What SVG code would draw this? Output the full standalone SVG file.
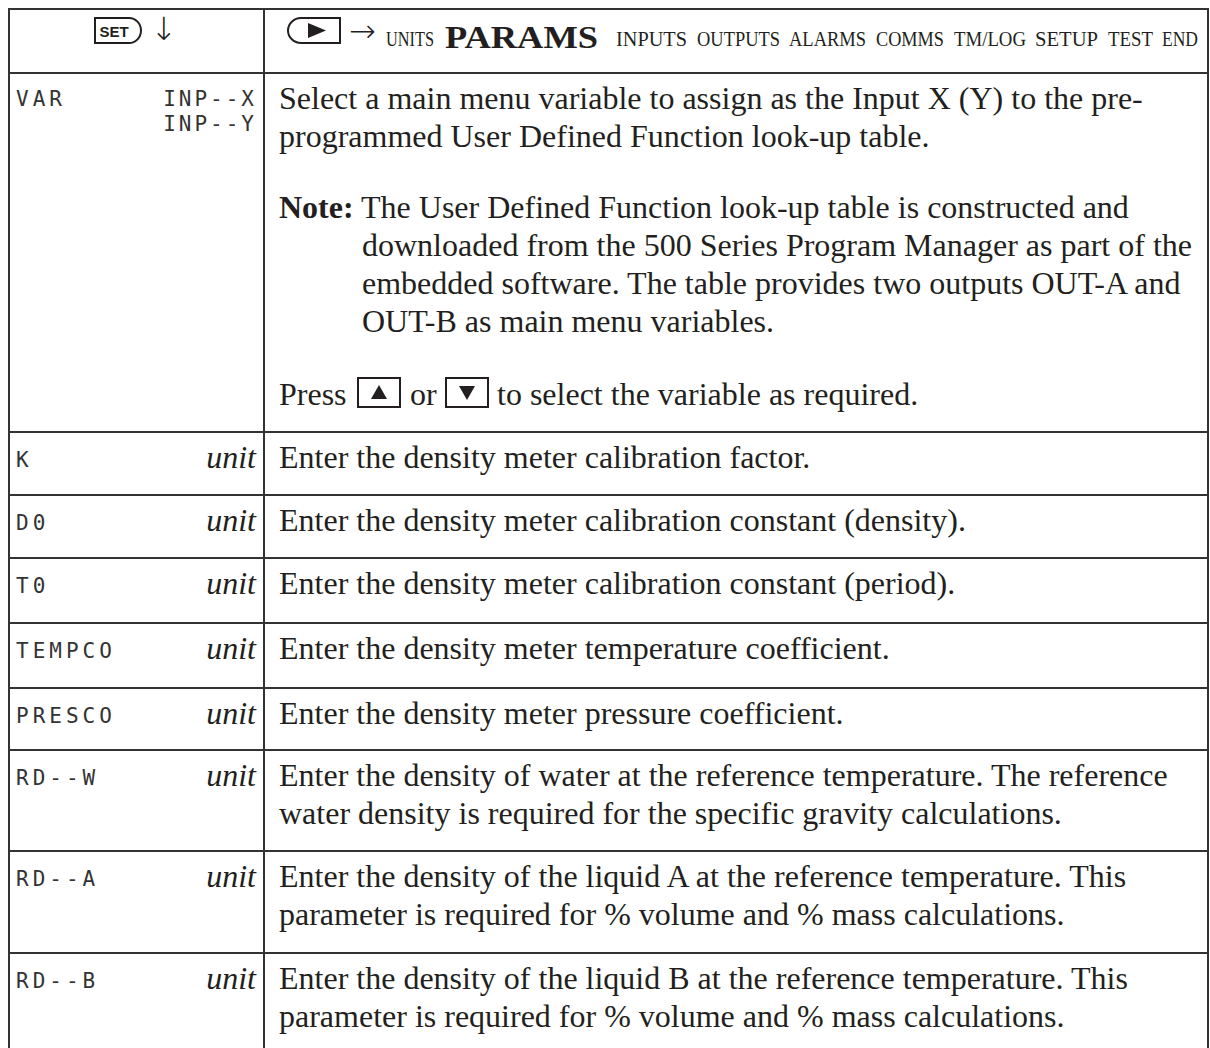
<svg xmlns="http://www.w3.org/2000/svg" width="1210" height="1048" viewBox="0 0 1210 1048">
<style>
.ln{stroke:#333;stroke-width:2;fill:none}
.t{font-family:"Liberation Serif","Times New Roman",serif;font-size:32px;fill:#231f20}
.b{font-weight:bold}
.u{font-family:"Liberation Serif","Times New Roman",serif;font-size:32px;font-style:italic;fill:#231f20;text-anchor:end}
.lcd{font-family:"DejaVu Sans Mono",monospace;font-size:21px;fill:#333;letter-spacing:4px}
.lcdr{font-family:"DejaVu Sans Mono",monospace;font-size:21px;fill:#333;letter-spacing:3px;text-anchor:end}
.hd{font-family:"Liberation Serif","Times New Roman",serif;font-size:21px;fill:#231f20}
.ar{font-family:"DejaVu Sans",sans-serif;font-weight:200;font-size:32px;fill:#231f20}
.key{fill:#fff;stroke:#231f20;stroke-width:2}
</style>
<rect width="1210" height="1048" fill="#fff"/>
<g id="grid">
<rect class="ln" x="9" y="9" width="1199" height="1060"/>
<line class="ln" x1="264" y1="9" x2="264" y2="1048"/>
<line class="ln" x1="9" y1="73" x2="1208" y2="73"/>
<line class="ln" x1="9" y1="432" x2="1208" y2="432"/>
<line class="ln" x1="9" y1="495" x2="1208" y2="495"/>
<line class="ln" x1="9" y1="558" x2="1208" y2="558"/>
<line class="ln" x1="9" y1="623" x2="1208" y2="623"/>
<line class="ln" x1="9" y1="688" x2="1208" y2="688"/>
<line class="ln" x1="9" y1="750" x2="1208" y2="750"/>
<line class="ln" x1="9" y1="851" x2="1208" y2="851"/>
<line class="ln" x1="9" y1="953" x2="1208" y2="953"/>
</g>
<g id="header">
<path class="key" d="M95,18 H129 A12,12.5 0 0 1 129,43 H95 Z"/>
<text x="114" y="36.5" font-family="Liberation Sans,Arial,sans-serif" font-weight="bold" font-size="15" text-anchor="middle" fill="#231f20">SET</text>
<text x="164" y="40" class="ar" text-anchor="middle">↓</text>
<path class="key" d="M301,18 H340 V43 H301 A13,12.5 0 0 1 301,18 Z"/>
<path d="M308,23 L326,30.5 L308,38 Z" fill="#231f20"/>
<text x="349" y="42" class="ar">→</text>
<text x="386" y="46" class="hd" textLength="48" lengthAdjust="spacingAndGlyphs">UNITS</text>
<text x="445" y="48" class="t b" font-size="36" textLength="153" lengthAdjust="spacingAndGlyphs">PARAMS</text>
<text x="616" y="46" class="hd" textLength="71" lengthAdjust="spacingAndGlyphs">INPUTS</text>
<text x="697" y="46" class="hd" textLength="83" lengthAdjust="spacingAndGlyphs">OUTPUTS</text>
<text x="789" y="46" class="hd" textLength="77" lengthAdjust="spacingAndGlyphs">ALARMS</text>
<text x="876" y="46" class="hd" textLength="68" lengthAdjust="spacingAndGlyphs">COMMS</text>
<text x="954" y="46" class="hd" textLength="72" lengthAdjust="spacingAndGlyphs">TM/LOG</text>
<text x="1035" y="46" class="hd" textLength="63" lengthAdjust="spacingAndGlyphs">SETUP</text>
<text x="1108" y="46" class="hd" textLength="45" lengthAdjust="spacingAndGlyphs">TEST</text>
<text x="1162" y="46" class="hd" textLength="36" lengthAdjust="spacingAndGlyphs">END</text>
</g>
<g id="row-var">
<text x="16" y="106" class="lcd">VAR</text>
<text x="257" y="106" class="lcdr">INP--X</text>
<text x="257" y="131" class="lcdr">INP--Y</text>
<text x="279" y="109" class="t">Select a main menu variable to assign as the Input X (Y) to the pre-</text>
<text x="279" y="147" class="t">programmed User Defined Function look-up table.</text>
<text x="279" y="218" class="t"><tspan class="b">Note:</tspan> The User Defined Function look-up table is constructed and</text>
<text x="362" y="256" class="t">downloaded from the 500 Series Program Manager as part of the</text>
<text x="362" y="294" class="t">embedded software. The table provides two outputs OUT-A and</text>
<text x="362" y="332" class="t">OUT-B as main menu variables.</text>
<text x="279" y="405" class="t">Press</text>
<rect class="key" x="358" y="378" width="42" height="29"/>
<path d="M379,385 L387,399 L371,399 Z" fill="#231f20"/>
<text x="410" y="405" class="t">or</text>
<rect class="key" x="446" y="378" width="42" height="29"/>
<path d="M459,386 L475,386 L467,400 Z" fill="#231f20"/>
<text x="497" y="405" class="t">to select the variable as required.</text>
</g>
<g id="row-k">
<text x="16" y="467" class="lcd">K</text>
<text x="256" y="468" class="u">unit</text>
<text x="279" y="468" class="t">Enter the density meter calibration factor.</text>
</g>
<g id="row-d0">
<text x="16" y="530" class="lcd">D0</text>
<text x="256" y="531" class="u">unit</text>
<text x="279" y="531" class="t">Enter the density meter calibration constant (density).</text>
</g>
<g id="row-t0">
<text x="16" y="593" class="lcd">T0</text>
<text x="256" y="594" class="u">unit</text>
<text x="279" y="594" class="t">Enter the density meter calibration constant (period).</text>
</g>
<g id="row-tempco">
<text x="16" y="658" class="lcd">TEMPCO</text>
<text x="256" y="659" class="u">unit</text>
<text x="279" y="659" class="t">Enter the density meter temperature coefficient.</text>
</g>
<g id="row-presco">
<text x="16" y="723" class="lcd">PRESCO</text>
<text x="256" y="724" class="u">unit</text>
<text x="279" y="724" class="t">Enter the density meter pressure coefficient.</text>
</g>
<g id="row-rdw">
<text x="16" y="785" class="lcd">RD--W</text>
<text x="256" y="786" class="u">unit</text>
<text x="279" y="786" class="t">Enter the density of water at the reference temperature. The reference</text>
<text x="279" y="824" class="t">water density is required for the specific gravity calculations.</text>
</g>
<g id="row-rda">
<text x="16" y="886" class="lcd">RD--A</text>
<text x="256" y="887" class="u">unit</text>
<text x="279" y="887" class="t">Enter the density of the liquid A at the reference temperature. This</text>
<text x="279" y="925" class="t">parameter is required for % volume and % mass calculations.</text>
</g>
<g id="row-rdb">
<text x="16" y="988" class="lcd">RD--B</text>
<text x="256" y="989" class="u">unit</text>
<text x="279" y="989" class="t">Enter the density of the liquid B at the reference temperature. This</text>
<text x="279" y="1027" class="t">parameter is required for % volume and % mass calculations.</text>
</g>
</svg>
